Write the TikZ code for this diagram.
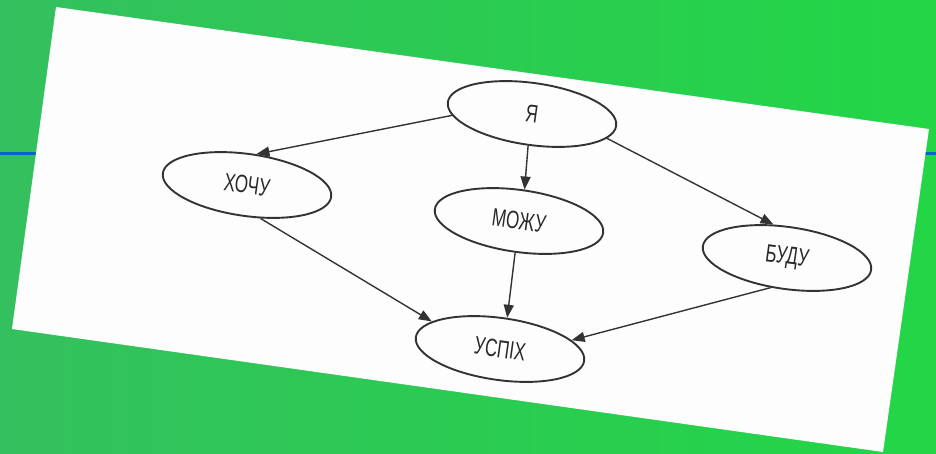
\documentclass[tikz,border=0pt]{standalone}
\usepackage{fontspec}
\setmainfont{Liberation Sans}
\newfontfamily\condfont[FakeStretch=0.68]{Liberation Sans}
\usetikzlibrary{shapes.geometric,arrows.meta}
\definecolor{bgleft}{HTML}{34C05E}
\definecolor{bgmid}{HTML}{31C45A}
\definecolor{bgright}{HTML}{22D646}
\definecolor{bluel}{HTML}{0A64C8}
\definecolor{ink}{HTML}{333333}
\definecolor{paper}{HTML}{FDFDFD}
\tikzset{
  oval/.style={ellipse, draw=ink, line width=1.9pt, minimum width=170pt, minimum height=62pt,
    inner sep=0pt, rotate=-8, font=\condfont\fontsize{25}{25}\selectfont, text=ink!80!black},
  link/.style={draw=ink, line width=1.4pt, -{Triangle[length=13pt,width=10pt]}}
}
\begin{document}
\begin{tikzpicture}[x=1pt,y=-1pt]
\useasboundingbox (0,0) rectangle (936,453);
\fill[left color=bgleft, middle color=bgmid, right color=bgright] (0,0) rectangle (936,453);
\draw[bluel, line width=3pt] (0,153) -- (936,153);
\fill[paper] (56,7) -- (929,129) -- (883,452) -- (12,329) -- cycle;
\node[oval] (ya) at (532,114) {Я};
\node[oval] (xochu) at (247,185) {ХОЧУ};
\node[oval] (mozhu) at (519,221) {МОЖУ};
\node[oval] (budu) at (787,258) {БУДУ};
\node[oval] (uspikh) at (500,349) {УСПІХ};
\draw[link] (ya.189) -- (xochu.81);
\draw[link] (ya.271) -- (mozhu.88);
\draw[link] (ya.350) -- (budu.120);
\draw[link] (xochu.300) -- (uspikh.166);
\draw[link] (mozhu.271) -- (uspikh.85);
\draw[link] (budu.249) -- (uspikh.15);
\end{tikzpicture}
\end{document}
